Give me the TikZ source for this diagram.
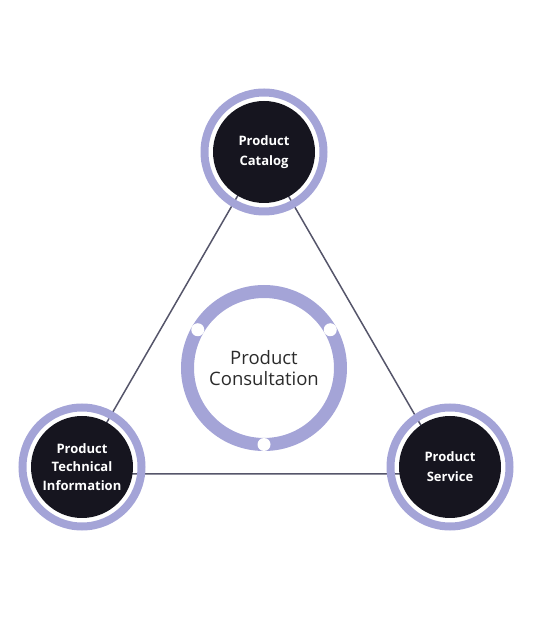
\documentclass[tikz,border=0pt]{standalone}
\usepackage{fontspec}
\setmainfont{Open Sans}
\usepackage{xcolor}
\usepackage{tikz}
\usetikzlibrary{backgrounds,calc}

\definecolor{ringc}{HTML}{A4A4D7}
\definecolor{hubfill}{HTML}{16151F}
\definecolor{edgec}{HTML}{55556A}
\definecolor{textc}{HTML}{2B2B2B}

\begin{document}
\begin{tikzpicture}[
    x=1pt, y=1pt,
    hub/.style={circle, fill=hubfill, text=white, minimum size=102pt, inner sep=0pt, align=center, font=\bfseries\fontsize{13}{20}\selectfont},
    hubring/.style={draw=ringc, line width=8pt},
    core/.style={circle, minimum size=140pt, inner sep=0pt, align=center, text=textc, font=\fontsize{18.5}{20.5}\selectfont},
    corering/.style={draw=ringc, line width=13pt},
    dot/.style={circle, fill=white, minimum size=13pt, inner sep=0pt},
    edge/.style={draw=edgec, line width=1.5pt}
]
\useasboundingbox (0,0) rectangle (546,635);

% Hubs
\node[hub] (catalog) at (264,483) {Product\\Catalog};
\node[hub, font=\bfseries\fontsize{13}{18.5}\selectfont] (techinfo) at (82,168) {Product\\Technical\\Information};
\node[hub] (service) at (450,168) {Product\\Service};

% Rings round the hubs
\foreach \n in {catalog,techinfo,service}
    \draw[hubring] (\n.center) circle[radius=59.5];

% Triangle corners
\coordinate (ctop) at (263,483);
\coordinate (cleft) at (77,161);
\coordinate (cright) at (449,161);

% Triangle
\begin{scope}[on background layer]
\draw[edge] (ctop) -- (cleft) -- (cright) -- cycle;
\end{scope}

% Centre
\node[core] (consult) at (264,267) {Product\\Consultation};
\draw[corering] (consult.center) circle[radius=76.5];
\foreach \a/\name in {150/dl,30/dr,270/db}
    \node[dot] (\name) at ($(consult.center)+(\a:76.5)$) {};

\end{tikzpicture}
\end{document}
